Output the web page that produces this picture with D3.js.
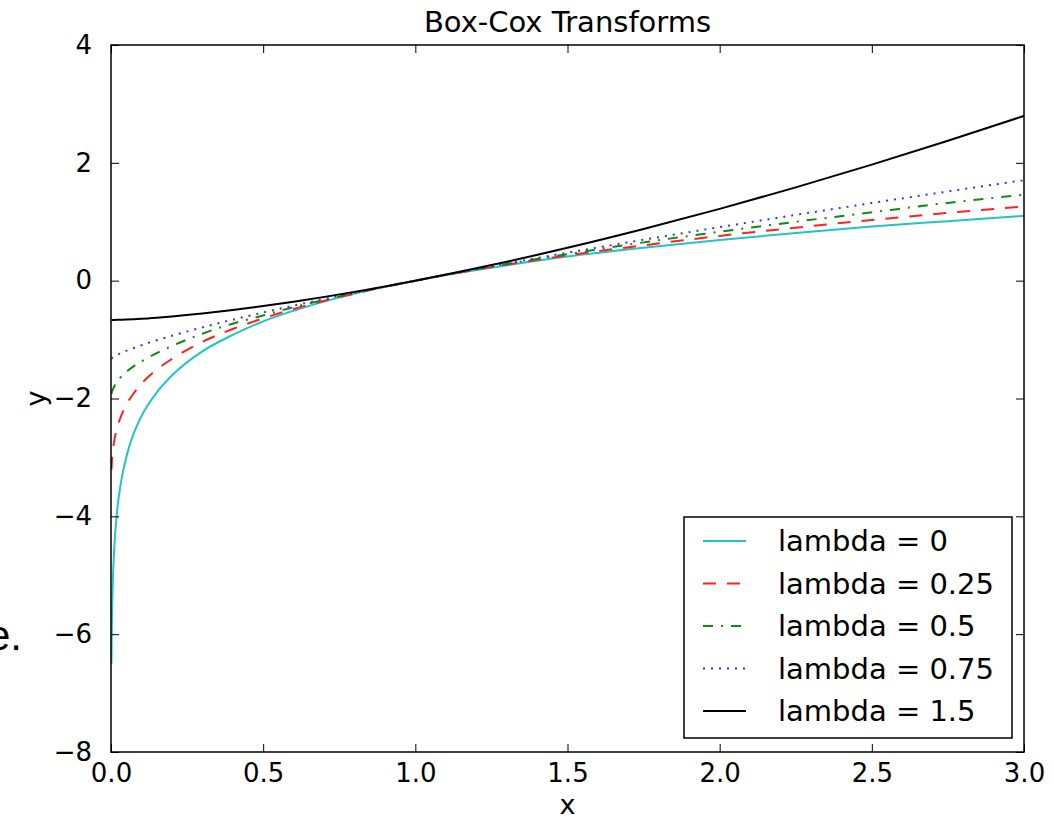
<!DOCTYPE html>
<html>
<head>
<meta charset="utf-8">
<script src="https://cdn.jsdelivr.net/npm/d3@7"></script>
<style>
  html, body { margin: 0; padding: 0; background: #fff; }
  svg { display: block; font-family: "DejaVu Sans", sans-serif; }
</style>
</head>
<body>
<svg id="chart" width="1053" height="821"></svg>
<script>
// ---- data ----
const xValues = [0.0015, 0.003, 0.006, 0.01, 0.02, 0.03, 0.05, 0.075, 0.1, 0.15, 0.2, 0.3, 0.4, 0.5, 0.6, 0.8, 1.0, 1.25, 1.5, 1.75, 2.0, 2.25, 2.5, 2.75, 3.0];
const yLambda0   = [-6.50, -5.81, -5.12, -4.61, -3.91, -3.51, -3.00, -2.59, -2.30, -1.90, -1.61, -1.20, -0.92, -0.69, -0.51, -0.22, 0, 0.22, 0.41, 0.56, 0.69, 0.81, 0.92, 1.01, 1.10];
const yLambda025 = [-3.21, -3.06, -2.89, -2.74, -2.50, -2.34, -2.11, -1.91, -1.75, -1.51, -1.33, -1.04, -0.82, -0.64, -0.48, -0.22, 0, 0.23, 0.43, 0.60, 0.76, 0.90, 1.03, 1.15, 1.26];
const yLambda05  = [-1.92, -1.89, -1.85, -1.80, -1.72, -1.65, -1.55, -1.45, -1.37, -1.23, -1.11, -0.90, -0.73, -0.59, -0.45, -0.21, 0, 0.24, 0.45, 0.65, 0.83, 1.00, 1.16, 1.32, 1.46];
const yLambda075 = [-1.323, -1.316, -1.305, -1.291, -1.262, -1.237, -1.192, -1.142, -1.096, -1.012, -0.935, -0.793, -0.663, -0.541, -0.424, -0.205, 0, 0.243, 0.474, 0.695, 0.909, 1.116, 1.318, 1.514, 1.706];
const yLambda15  = [-0.667, -0.667, -0.666, -0.666, -0.665, -0.663, -0.659, -0.653, -0.646, -0.628, -0.607, -0.557, -0.498, -0.431, -0.357, -0.190, 0, 0.265, 0.558, 0.877, 1.219, 1.583, 1.969, 2.374, 2.797];
const seriesLabels = ["lambda = 0", "lambda = 0.25", "lambda = 0.5", "lambda = 0.75", "lambda = 1.5"];
const xTicks = [0, 0.5, 1.0, 1.5, 2.0, 2.5, 3.0];
const yTicks = [-8, -6, -4, -2, 0, 2, 4];
const titleText = "Box-Cox Transforms";

// ---- styles ----
const seriesStyles = [
  { color: "#22c4c4", dash: null },
  { color: "#ff2020", dash: "13,11" },
  { color: "#108a10", dash: "10,8,2,8" },
  { color: "#3333ff", dash: "2,6" },
  { color: "#000000", dash: null }
];
const seriesY = [yLambda0, yLambda025, yLambda05, yLambda075, yLambda15];

const svg = d3.select("#chart");
const plot = { left: 111, right: 1024, top: 45, bottom: 752 };

const x = d3.scaleLinear().domain([0, 3]).range([plot.left, plot.right]);
const y = d3.scaleLinear().domain([-8, 4]).range([plot.bottom, plot.top]);

const fontSize = 26;
const fmtX = d3.format(".1f");
const fmtY = d => d < 0 ? "\u2212" + Math.abs(d) : String(d);

// clip
svg.append("defs").append("clipPath").attr("id", "clip")
  .append("rect").attr("x", plot.left).attr("y", plot.top)
  .attr("width", plot.right - plot.left).attr("height", plot.bottom - plot.top);

// lines
const line = d3.line()
  .x(d => x(d[0])).y(d => y(d[1]))
  .curve(d3.curveMonotoneX);

const g = svg.append("g").attr("clip-path", "url(#clip)");
seriesY.forEach((ys, i) => {
  const pts = xValues.map((xv, j) => [xv, ys[j]]);
  g.append("path")
    .attr("d", line(pts))
    .attr("fill", "none")
    .attr("stroke", seriesStyles[i].color)
    .attr("stroke-width", 2)
    .attr("stroke-dasharray", seriesStyles[i].dash)
    .attr("stroke-linejoin", "round");
});

// axes (ticks inward on all four sides)
const tickLen = 8;
const axB = svg.append("g").attr("transform", `translate(0,${plot.bottom})`)
  .call(d3.axisBottom(x).tickValues(xTicks).tickFormat(fmtX).tickSizeInner(-tickLen).tickSizeOuter(0).tickPadding(12));
const axT = svg.append("g").attr("transform", `translate(0,${plot.top})`)
  .call(d3.axisTop(x).tickValues(xTicks).tickFormat("").tickSizeInner(-tickLen).tickSizeOuter(0));
const axL = svg.append("g").attr("transform", `translate(${plot.left},0)`)
  .call(d3.axisLeft(y).tickValues(yTicks).tickFormat(fmtY).tickSizeInner(-tickLen).tickSizeOuter(0).tickPadding(19));
const axR = svg.append("g").attr("transform", `translate(${plot.right},0)`)
  .call(d3.axisRight(y).tickValues(yTicks).tickFormat("").tickSizeInner(-tickLen).tickSizeOuter(0));

[axB, axT, axL, axR].forEach(a => {
  a.select(".domain").remove();
  a.selectAll(".tick line").attr("stroke", "#000").attr("stroke-width", 1);
  a.selectAll("text").attr("font-size", fontSize).attr("font-family", "DejaVu Sans").attr("fill", "#000");
});

// frame
svg.append("rect")
  .attr("x", plot.left).attr("y", plot.top)
  .attr("width", plot.right - plot.left).attr("height", plot.bottom - plot.top)
  .attr("fill", "none").attr("stroke", "#000").attr("stroke-width", 1.5);

// title and axis labels
svg.append("text").attr("x", (plot.left + plot.right) / 2).attr("y", 32)
  .attr("text-anchor", "middle").attr("font-size", 29).attr("fill", "#000").text(titleText);
svg.append("text").attr("x", (plot.left + plot.right) / 2).attr("y", 814)
  .attr("text-anchor", "middle").attr("font-size", 27).attr("fill", "#000").text("x");
svg.append("text").attr("transform", `translate(45,${(plot.top + plot.bottom) / 2}) rotate(-90)`)
  .attr("text-anchor", "middle").attr("font-size", 27).attr("fill", "#000").text("y");

// stray text fragment at left edge
svg.append("text").attr("x", 22).attr("y", 650).attr("text-anchor", "end")
  .attr("font-family", "Liberation Sans, sans-serif").attr("font-size", 42).attr("fill", "#000").text("e.");

// legend
const leg = svg.append("g");
leg.append("rect").attr("x", 684).attr("y", 517).attr("width", 328).attr("height", 221)
  .attr("fill", "#fff").attr("stroke", "#000").attr("stroke-width", 1.5);
const rowY = d3.scaleLinear().domain([0, 4]).range([541, 711]);
seriesLabels.forEach((lab, i) => {
  const yy = rowY(i);
  leg.append("line").attr("x1", 703).attr("x2", 746).attr("y1", yy).attr("y2", yy)
    .attr("stroke", seriesStyles[i].color).attr("stroke-width", 2)
    .attr("stroke-dasharray", seriesStyles[i].dash);
  leg.append("text").attr("x", 778).attr("y", yy).attr("dy", "0.36em")
    .attr("font-size", 29).attr("fill", "#000").text(lab);
});
</script>
</body>
</html>
